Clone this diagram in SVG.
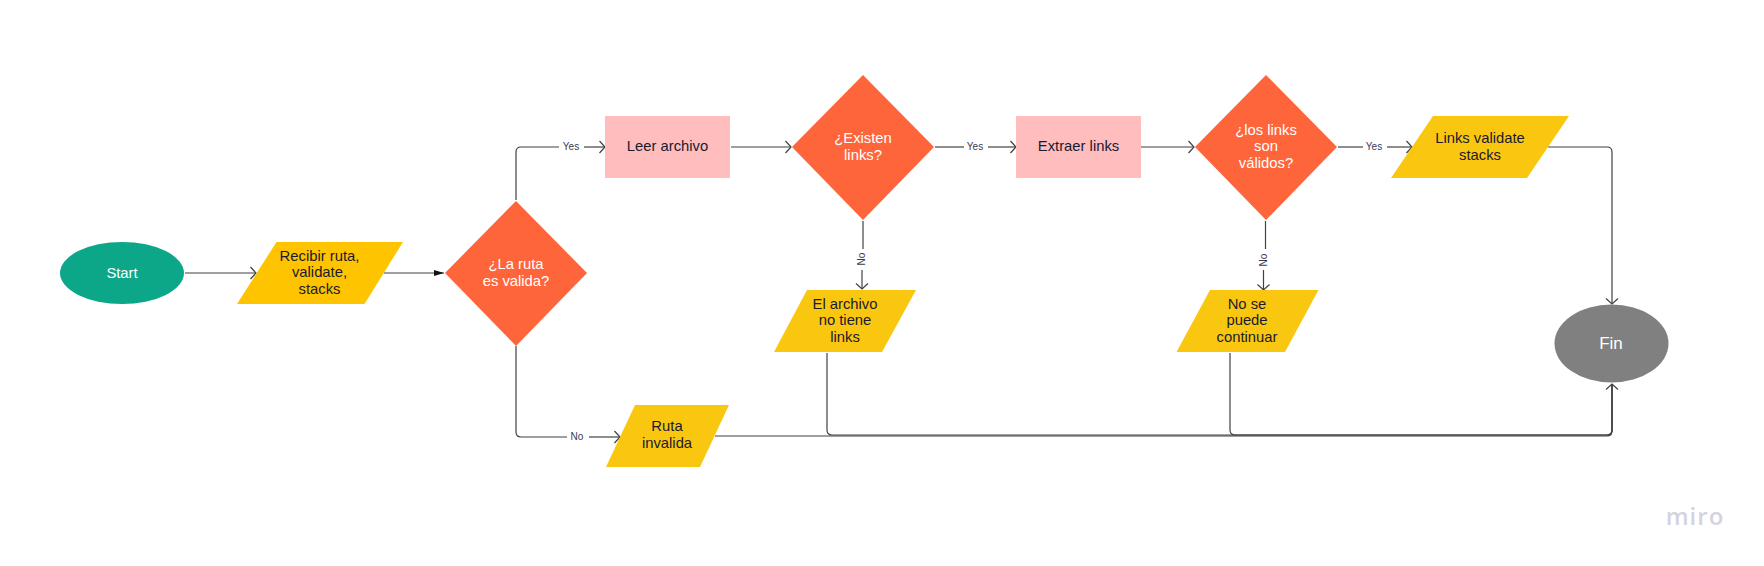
<svg xmlns="http://www.w3.org/2000/svg" width="1764" height="566" viewBox="0 0 1764 566">
<style>
text{font-family:"Liberation Sans",Arial,sans-serif;font-size:14.8px;text-anchor:middle;dominant-baseline:central;fill:#1a1a2e}
.w text,text.w{fill:#fff}
.c path{fill:none;stroke:#414141;stroke-width:1.2}
.l{font-size:10px;fill:#3a3a55}
.y{fill:#fac710}
.d{fill:#ff653b}
.p{fill:#ffbdbd}
</style>
<defs>
<marker id="o" markerUnits="userSpaceOnUse" markerWidth="12" markerHeight="16" refX="10" refY="8" orient="auto"><path d="M4.500 2L10 8L4.500 14" fill="none" stroke="#414141" stroke-width="1.2"/></marker>
<marker id="f" markerUnits="userSpaceOnUse" markerWidth="12" markerHeight="10" refX="10" refY="5" orient="auto"><path d="M0 2L10 5L0 8Z" fill="#111"/></marker>
</defs>
<rect width="1764" height="566" fill="#fff"/>
<g id="connectors" class="c">
<path d="M185 273H256" marker-end="url(#o)"/>
<path d="M384 273H444" marker-end="url(#f)"/>
<path d="M516 200V152Q516 147 521 147H559"/>
<path d="M584 147H605" marker-end="url(#o)"/>
<path d="M516 346V432Q516 437 521 437H567"/>
<path d="M589 437H620" marker-end="url(#o)"/>
<path d="M731 147H791" marker-end="url(#o)"/>
<path d="M935 147H964"/>
<path d="M988 147H1016" marker-end="url(#o)"/>
<path d="M1141 147H1194" marker-end="url(#o)"/>
<path d="M1338 147H1363"/>
<path d="M1387 147H1412" marker-end="url(#o)"/>
<path d="M863 221V249"/>
<path d="M862 270V289" marker-end="url(#o)"/>
<path d="M1265.500 221V249"/>
<path d="M1263.500 270V290" marker-end="url(#o)"/>
<path d="M1548 147H1607Q1612 147 1612 152V304" marker-end="url(#o)"/>
<path d="M715 436H1607Q1612 436 1612 431V384" marker-end="url(#o)"/>
<path d="M827 353V430Q827 435 832 435H1607Q1612 435 1612 430V384"/>
<path d="M1230 353V430Q1230 435 1235 435H1607Q1612 435 1612 430V384"/>
<text class="l" x="571" y="146">Yes</text>
<text class="l" x="975" y="146">Yes</text>
<text class="l" x="1374" y="146">Yes</text>
<text class="l" x="577" y="436">No</text>
<text class="l" transform="translate(861.500 259) rotate(-90)">No</text>
<text class="l" transform="translate(1263.500 260) rotate(-90)">No</text>
</g>
<g id="start" class="w"><ellipse cx="122" cy="273" rx="62" ry="31" fill="#0ca789"/><text x="122" y="272.500">Start</text></g>
<g id="recibir"><polygon points="276.500,242 403,242 364.500,304 237,304" fill="#fec400"/><text x="319.500" y="256">Recibir ruta,</text><text x="319.500" y="272">validate,</text><text x="319.500" y="289">stacks</text></g>
<g id="ruta-valida" class="w"><polygon class="d" points="516,201 587,273 516,346 445,273"/><text x="516" y="264">¿La ruta</text><text x="516" y="281">es valida?</text></g>
<g id="leer"><rect class="p" x="605" y="116" width="125" height="62"/><text x="667.500" y="146">Leer archivo</text></g>
<g id="existen" class="w"><polygon class="d" points="863,75 934,147 863,220 792,147"/><text x="863" y="138">¿Existen</text><text x="863" y="155">links?</text></g>
<g id="extraer"><rect class="p" x="1016" y="116" width="125" height="62"/><text x="1078.500" y="146">Extraer links</text></g>
<g id="validos" class="w"><polygon class="d" points="1266,75 1337,147 1266,220 1195,147"/><text x="1266" y="130">¿los links</text><text x="1266" y="146">son</text><text x="1266" y="163">válidos?</text></g>
<g id="links-validate"><polygon class="y" points="1433,116 1569,116 1527,178 1391,178"/><text x="1480" y="138">Links validate</text><text x="1480" y="155">stacks</text></g>
<g id="sin-links"><polygon class="y" points="807,290 916,290 882,352 774,352"/><text x="845" y="304">El archivo</text><text x="845" y="320">no tiene</text><text x="845" y="337">links</text></g>
<g id="no-continuar"><polygon class="y" points="1210,290 1318.500,290 1285,352 1176.500,352"/><text x="1247" y="304">No se</text><text x="1247" y="320">puede</text><text x="1247" y="337">continuar</text></g>
<g id="ruta-invalida"><polygon class="y" points="635,405 729,405 700,467 606,467"/><text x="667" y="426">Ruta</text><text x="667" y="443">invalida</text></g>
<g id="fin" class="w"><ellipse cx="1611.500" cy="343.500" rx="57" ry="39" fill="#808080"/><text x="1611" y="343.500" style="font-size:17px">Fin</text></g>
<text x="1695" y="525" style="font-family:'Open Sans',sans-serif;font-size:24px;font-weight:600;fill:#d4d3e0;dominant-baseline:auto;letter-spacing:1px">miro</text>
</svg>
